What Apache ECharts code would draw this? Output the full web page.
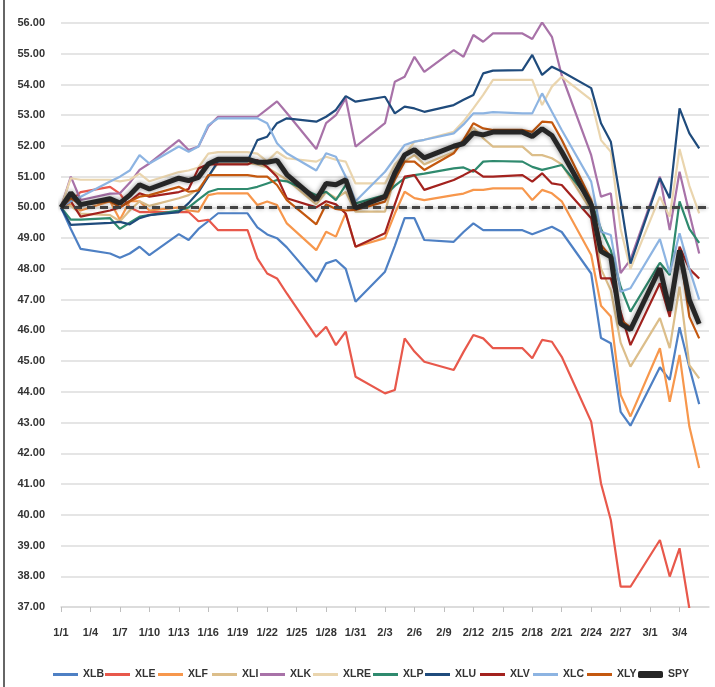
<!DOCTYPE html>
<html>
<head>
<meta charset="utf-8">
<script src="https://cdn.jsdelivr.net/npm/echarts@6/dist/echarts.min.js"></script>
<style>html,body{margin:0;padding:0;background:#fff;overflow:hidden}#c{width:715px;height:687px}</style>
</head>
<body>
<div id="c"></div>
<script>
// Axis categories (calendar days)
const categories = ['1/1','1/2','1/3','1/4','1/5','1/6','1/7','1/8','1/9','1/10','1/11','1/12','1/13','1/14','1/15','1/16','1/17','1/18','1/19','1/20','1/21','1/22','1/23','1/24','1/25','1/26','1/27','1/28','1/29','1/30','1/31','2/1','2/2','2/3','2/4','2/5','2/6','2/7','2/8','2/9','2/10','2/11','2/12','2/13','2/14','2/15','2/16','2/17','2/18','2/19','2/20','2/21','2/22','2/23','2/24','2/25','2/26','2/27','2/28','2/29','3/1','3/2','3/3','3/4','3/5','3/6','3/7'];
// Dates that carry values
const dataDates = ['1/1','1/2','1/3','1/6','1/7','1/8','1/9','1/10','1/13','1/14','1/15','1/16','1/17','1/20','1/21','1/22','1/23','1/24','1/27','1/28','1/29','1/30','1/31','2/3','2/4','2/5','2/6','2/7','2/10','2/11','2/12','2/13','2/14','2/17','2/18','2/19','2/20','2/21','2/24','2/25','2/26','2/27','2/28','3/2','3/3','3/4','3/5','3/6'];

const XLB = [50,49.3,48.65,48.5,48.36,48.5,48.72,48.45,49.13,48.94,49.3,49.55,49.81,49.81,49.35,49.12,49.0,48.7,47.58,48.18,48.29,48.0,46.93,47.91,48.75,49.65,49.65,48.94,48.88,49.2,49.48,49.26,49.26,49.26,49.13,49.25,49.37,49.2,47.85,45.75,45.58,43.35,42.9,44.8,44.39,46.1,44.8,43.6];
const XLE = [50,50.2,50.5,50.67,50.45,50.0,49.85,49.85,49.85,49.85,49.55,49.6,49.26,49.26,48.34,47.85,47.69,47.2,45.79,46.12,45.52,45.96,44.49,43.95,44.06,45.74,45.31,44.98,44.71,45.3,45.85,45.74,45.42,45.42,45.09,45.69,45.63,45.14,43.03,41.02,39.83,37.66,37.66,39.18,37.99,38.91,36.95,36.2];
const XLF = [50,50.1,49.9,50.2,49.6,50.2,50.2,49.9,50.0,49.9,49.86,50.4,50.46,50.46,50.08,50.19,50.08,49.48,48.61,49.21,49.05,49.81,48.72,49.0,49.8,50.51,50.3,50.24,50.4,50.45,50.57,50.57,50.62,50.62,50.24,50.57,50.46,50.2,48.45,46.8,46.45,43.9,43.2,45.42,43.68,45.2,42.87,41.52];
const XLI = [50,50.05,49.8,49.75,49.55,49.9,50.2,50.05,50.3,50.4,50.6,51.0,51.45,51.45,51.4,51.3,51.1,50.9,50.1,50.5,50.3,50.5,49.86,49.86,51.0,51.5,51.7,51.4,51.8,52.2,52.6,52.25,51.98,51.98,51.7,51.7,51.6,51.4,49.9,48.0,47.3,45.6,44.82,46.4,45.42,47.42,44.87,44.44];
const XLK = [50,51.0,50.24,50.45,50.46,50.8,51.22,51.43,52.19,51.87,51.98,52.63,52.95,52.95,52.95,53.2,53.45,53.07,51.9,52.74,53.0,53.55,51.98,52.74,54.09,54.25,54.9,54.41,55.12,54.9,55.61,55.39,55.66,55.66,55.48,56.02,55.55,54.3,51.7,50.35,50.46,47.86,48.3,51.0,49.26,51.16,49.81,48.5];
const XLRE = [50,50.95,50.9,50.9,50.85,50.9,51.1,50.85,51.15,51.2,51.3,51.75,51.8,51.8,51.75,51.5,51.81,51.6,51.49,51.65,51.55,51.49,50.78,50.78,51.4,51.7,52.14,52.2,52.46,52.8,53.22,53.66,54.15,54.15,54.15,53.33,53.93,54.25,53.5,52.19,51.81,49.3,48.0,50.35,49.7,51.9,50.7,49.81];
const XLP = [50,49.6,49.6,49.65,49.3,49.5,49.7,49.75,49.9,50.0,50.25,50.5,50.6,50.6,50.67,50.78,50.89,50.85,50.4,50.51,50.24,50.73,50.13,50.4,50.7,50.95,51.05,51.1,51.27,51.3,51.16,51.49,51.51,51.49,51.32,51.22,51.3,51.38,50.19,49.3,48.6,47.42,46.61,48.2,47.8,50.2,49.3,48.85];
const XLU = [50,49.43,49.45,49.5,49.53,49.45,49.65,49.75,49.85,50.14,50.5,51.0,51.5,51.5,52.19,52.3,52.74,52.9,52.79,52.95,53.17,53.62,53.44,53.6,53.06,53.28,53.22,53.11,53.33,53.5,53.66,54.36,54.45,54.47,54.96,54.31,54.58,54.42,53.88,52.74,52.14,50.2,48.17,50.95,50.3,53.22,52.41,51.92];
const XLV = [50,50.2,49.7,49.9,50.0,50.2,50.46,50.35,50.5,50.6,51.27,51.4,51.4,51.4,51.54,51.32,51.0,50.3,50.0,50.2,50.1,49.8,48.72,49.16,50.1,51.0,51.05,50.57,50.89,51.05,51.22,51.0,51.0,51.05,50.84,51.11,50.78,50.73,49.65,47.69,47.69,46.6,45.52,47.53,46.44,48.72,48.0,47.69];
const XLC = [50,50.2,50.35,50.84,51.0,51.2,51.7,51.43,51.98,51.81,51.98,52.68,52.9,52.9,52.9,52.74,52.09,51.76,51.2,51.76,51.65,51.0,50.2,51.16,51.6,52.03,52.14,52.2,52.41,52.7,53.06,53.06,53.1,53.06,53.06,53.71,53.11,52.52,50.84,49.21,49.1,47.26,47.37,48.97,47.86,49.16,48.0,47.0];
const XLY = [50,50.3,50.08,50.2,50.0,50.2,50.35,50.4,50.67,50.51,50.55,51.05,51.05,51.05,51.0,51.0,50.73,50.24,49.45,50.1,49.95,49.9,49.92,50.19,50.9,51.49,51.49,51.22,51.76,52.2,52.74,52.57,52.52,52.52,52.46,52.79,52.77,52.2,50.24,48.78,48.4,46.34,46.1,47.96,46.77,48.61,46.44,45.74];
const SPY = [50,50.47,50.09,50.28,50.14,50.40,50.74,50.60,50.95,50.87,50.98,51.41,51.57,51.57,51.47,51.47,51.53,51.07,50.25,50.78,50.74,50.90,49.98,50.35,51.12,51.71,51.88,51.61,51.99,52.08,52.42,52.36,52.45,52.45,52.31,52.56,52.34,51.81,50.09,48.57,48.39,46.22,46.02,48.02,46.64,48.60,46.99,46.21];

const baseline = 50;
const seriesDefs = [
  ['XLB', XLB, '#4E80C4'],
  ['XLE', XLE, '#E8584B'],
  ['XLF', XLF, '#F7974C'],
  ['XLI', XLI, '#DCBE8A'],
  ['XLK', XLK, '#A872A8'],
  ['XLRE', XLRE, '#EAD5AE'],
  ['XLP', XLP, '#2F8A6E'],
  ['XLU', XLU, '#1F4B7C'],
  ['XLV', XLV, '#A3221E'],
  ['XLC', XLC, '#8DB4E2'],
  ['XLY', XLY, '#C4580F'],
  ['SPY', SPY, '#262626']
];
// legend item left positions (layout)
const legendLeft = [48, 100, 153, 207, 255, 308, 368, 420, 475, 528, 582, 633];

function expand(vals) {
  return categories.map(c => {
    const i = dataDates.indexOf(c);
    return i >= 0 ? vals[i] : null;
  });
}

const font = "'Liberation Sans', Arial, sans-serif";
const series = seriesDefs.map(([name, vals, color]) => {
  const isSpy = name === 'SPY';
  return {
    name, type: 'line', data: expand(vals), connectNulls: true,
    showSymbol: false, symbol: 'none', smooth: false,
    lineStyle: isSpy ? {color, width: 5, shadowBlur: 5, shadowColor: 'rgba(0,0,0,0.45)'} : {color, width: 2.2},
    itemStyle: {color},
    z: isSpy ? 5 : 2,
    animation: false
  };
});
series.push({
  name: 'base', type: 'line', data: [], z: 10, animation: false,
  markLine: {
    silent: true, symbol: 'none', label: {show: false},
    lineStyle: {color: '#444', width: 3, type: [8, 5], shadowBlur: 4, shadowColor: 'rgba(0,0,0,0.3)'},
    data: [{yAxis: baseline}]
  }
});

const legends = seriesDefs.map(([name, , color], i) => ({
  data: [name],
  left: legendLeft[i], top: 664,
  icon: name === 'SPY' ? 'roundRect' : 'rect',
  itemWidth: 25, itemHeight: name === 'SPY' ? 7 : 3,
  selectedMode: false,
  textStyle: {fontFamily: font, fontWeight: 'bold', fontSize: 10.5, color: '#333'}
}));

const chart = echarts.init(document.getElementById('c'), null, {renderer: 'canvas'});
chart.setOption({
  backgroundColor: '#fff',
  animation: false,
  grid: {left: 61, right: 6, top: 23, bottom: 80, containLabel: false},
  xAxis: {
    type: 'category', data: categories, boundaryGap: false,
    axisLine: {show: true, lineStyle: {color: '#d9d9d9', width: 1.5}},
    axisTick: {show: true, interval: 2, length: 5, lineStyle: {color: '#bfbfbf'}},
    axisLabel: {interval: 2, margin: 20, showMaxLabel: false, fontFamily: font, fontWeight: 'bold', fontSize: 11, color: '#333'},
    splitLine: {show: false}
  },
  yAxis: {
    type: 'value', min: 37, max: 56, interval: 1,
    axisLine: {show: false}, axisTick: {show: false},
    axisLabel: {formatter: v => v.toFixed(2), margin: 16, fontFamily: font, fontWeight: 'bold', fontSize: 11, color: '#333'},
    splitLine: {lineStyle: {color: '#dcdcdc', width: 1.5}}
  },
  legend: legends,
  graphic: [
    {type: 'line', shape: {x1: 4, y1: 0, x2: 4, y2: 687}, style: {stroke: '#333', lineWidth: 1.5}, silent: true}
  ],
  series
});
</script>
</body>
</html>
